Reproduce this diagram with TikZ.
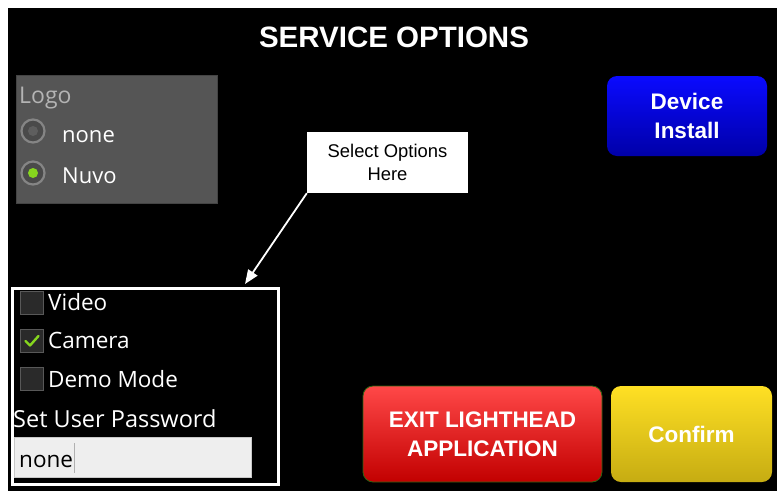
\documentclass[tikz,border=0pt]{standalone}
\usepackage{fontspec}
\setmainfont{Liberation Sans}
\newfontfamily\droid{Open Sans}
\usetikzlibrary{arrows.meta}

\definecolor{panelgray}{HTML}{555555}
\definecolor{panelline}{HTML}{444444}
\definecolor{logogray}{HTML}{B4B4B4}
\definecolor{ringgray}{HTML}{858585}
\definecolor{radiofill}{HTML}{4A4A4A}
\definecolor{dotgray}{HTML}{5E5E5E}
\definecolor{nuvogreen}{HTML}{86D61E}
\definecolor{boxfill}{HTML}{2A2A2A}
\definecolor{boxedge}{HTML}{585858}
\definecolor{fieldfill}{HTML}{EEEEEE}
\definecolor{fieldedge}{HTML}{C8C8C8}
\definecolor{cursorgray}{HTML}{B0B0B0}
\definecolor{devtop}{HTML}{0A0AFF}
\definecolor{devbot}{HTML}{0000A8}
\definecolor{exittop}{HTML}{FF4848}
\definecolor{exitbot}{HTML}{C20000}
\definecolor{exitedge}{HTML}{2E6412}
\definecolor{conftop}{HTML}{FFE024}
\definecolor{confbot}{HTML}{C6AC12}

\begin{document}
\begin{tikzpicture}[x=1pt, y=-1pt,
  btn/.style={rounded corners=10pt, text=white, align=center, inner sep=0pt,
    font=\fontsize{22.5}{28.5}\selectfont\bfseries},
  lbl/.style={anchor=base west, text=white, inner sep=0pt,
    font=\droid\fontsize{22.5}{25}\selectfont},
  chk/.style={draw=boxedge, fill=boxfill, line width=1pt, anchor=north west,
    minimum size=23pt, inner sep=0pt},
  radio/.style={circle, draw=ringgray, line width=2.2pt, fill=radiofill,
    minimum size=23pt, inner sep=0pt}]
  \useasboundingbox (0,0) rectangle (777,491);
  \fill[white] (0,0) rectangle (777,491);
  \fill[black] (8,8) rectangle (777,491);

  % title
  \node[text=white, inner sep=0pt, font=\fontsize{29.5}{30}\selectfont\bfseries]
    (title) at (394,37.5) {SERVICE OPTIONS};

  % logo panel
  \node[draw=panelline, fill=panelgray, anchor=north west, minimum width=201pt,
    minimum height=128pt] (logo) at (16,75) {};
  \node[lbl, text=logogray, font=\droid\fontsize{23}{25}\selectfont] (logolbl) at (19,103) {Logo};
  \node[radio] (rnone) at (33,131) {};
  \node[radio] (rnuvo) at (33,173) {};
  \fill[dotgray] (rnone) circle (5);
  \fill[nuvogreen] (rnuvo) circle (5);
  \node[lbl, font=\droid\fontsize{22}{25}\selectfont] (none) at (62,142) {none};
  \node[lbl, font=\droid\fontsize{22}{25}\selectfont] (nuvo) at (62,183) {Nuvo};

  % buttons
  \node[btn, top color=devtop, bottom color=devbot, minimum width=160pt,
    minimum height=80pt] (dev) at (687,116) {Device\\Install};
  \node[btn, top color=exittop, bottom color=exitbot, draw=exitedge, line width=0.8pt,
    minimum width=239pt, minimum height=96pt] (exit) at (482.5,434) {EXIT LIGHTHEAD\\APPLICATION};
  \node[btn, top color=conftop, bottom color=confbot, minimum width=161pt,
    minimum height=96pt] (conf) at (691.5,434) {Confirm};

  % options frame
  \node[draw=white, line width=3pt, anchor=north west, minimum width=266pt,
    minimum height=196pt, inner sep=0pt] (opts) at (10.5,286.5) {};
  \node[chk] (cbvideo) at (20,291) {};
  \node[chk] (cbcam) at (20,329) {};
  \node[chk] (cbdemo) at (20,367) {};
  \draw[nuvogreen, line width=2.4pt, line cap=round, line join=round]
    (25.5,341) -- (30,345.5) -- (38.5,336);
  \node[lbl] (video) at (48,310) {Video};
  \node[lbl] (camera) at (48,348) {Camera};
  \node[lbl] (demo) at (48,387) {Demo Mode};
  \node[lbl, font=\droid\fontsize{23.5}{25}\selectfont] (pwlbl) at (13,427) {Set User Password};
  \node[draw=fieldedge, fill=fieldfill, anchor=north west, minimum width=237pt,
    minimum height=40pt] (field) at (14,437) {};
  \node[lbl, text=black] (pw) at (19,467) {none};
  \draw[cursorgray, line width=1pt] (pw.base east) ++(1.5,-24) -- ++(0,30);

  % callout
  \node[fill=white, minimum width=161pt, minimum height=61pt, align=center, inner sep=0pt,
    font=\fontsize{18.4}{22.5}\selectfont] (note) at (387.5,162.5) {Select Options\\Here};
  \coordinate (tip) at (245,284);
  \draw[white, line width=1.8pt, -{Triangle[length=14pt,width=11pt]}] (note.south west) -- (tip);
\end{tikzpicture}
\end{document}
